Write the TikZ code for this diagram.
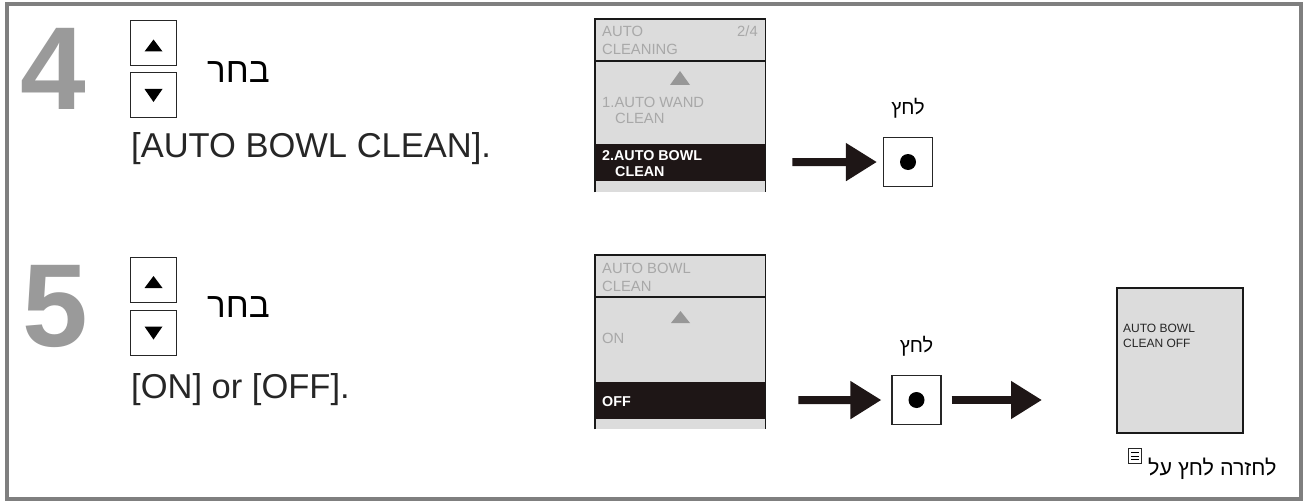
\documentclass[tikz,border=0pt]{standalone}
\usepackage{fontspec}
\setmainfont{Liberation Sans}
\newfontfamily\hebfont[Script=Hebrew]{Liberation Sans}
\TeXXeTstate=1
\usetikzlibrary{arrows.meta,positioning}
\definecolor{framegray}{HTML}{7F7F7F}
\definecolor{numgray}{HTML}{9A9A9A}
\definecolor{lcdfill}{HTML}{DCDCDC}
\definecolor{lcdtext}{HTML}{A8A8A8}
\definecolor{barblack}{HTML}{1E1616}
\newcommand{\fsz}[1]{\fontsize{#1}{#1}\selectfont}

\begin{document}
\begin{tikzpicture}[x=1pt, y=-1pt, every node/.style={inner sep=0pt},
  stepnum/.style={anchor=base west, text=numgray, font=\fsz{118}\bfseries},
  keybox/.style={draw=black!85, line width=1pt, minimum width=46pt, minimum height=45pt},
  choose/.style={anchor=base west, font=\fsz{35}\hebfont},
  optline/.style={anchor=base west, font=\fsz{34.5}, text=black!85},
  lcd/.style={fill=lcdfill, anchor=north west, minimum width=170pt},
  lcdedge/.style={draw=black!90, line width=1.3pt},
  lcdgray/.style={anchor=base west, text=lcdtext, font=\fsz{14.8}},
  lcdsel/.style={anchor=base west, text=white, font=\fsz{14.3}\bfseries},
  selbar/.style={fill=barblack, anchor=north west, minimum width=170pt, minimum height=37pt},
  pushbtn/.style={draw=black!85, line width=1.1pt, minimum size=49pt},
  press/.style={font=\fsz{20}\hebfont},
  bigarrow/.style={barblack, line width=8pt, -{Triangle[length=31pt, width=36pt]}}]

  \useasboundingbox (0,0) rectangle (1307,503);
  \draw[framegray, line width=4pt] (6.5,4.5) rectangle (1300.5,498.5);

  % step 4
  \node[stepnum] (num4) at (20,110) {4};
  \node[keybox] (up4) at (153.5,43) {};
  \node[keybox] (down4) at (153.5,95) {};
  \fill ([shift={(-9,8.5)}]up4.center) -- ++(18,0) -- ++(-9,-12) -- cycle;
  \fill ([shift={(-9,-6)}]down4.center) -- ++(18,0) -- ++(-9,13) -- cycle;
  \node[choose] (sel4) at (207,83) {\beginR בחר\endR};
  \node[optline] (opt4) at (131,157) {[AUTO BOWL CLEAN].};

  \node[lcd, minimum height=173pt] (scr4) at (595,19) {};
  \node[selbar] (bar4) at (595,143.5) {};
  \draw[lcdedge] (scr4.south west) |- (scr4.north east) -- (scr4.south east);
  \draw[lcdedge] (595,61) -- (765,61);
  \node[lcdgray] at (602,37) {AUTO};
  \node[lcdgray, anchor=base east] at (758,37) {2/4};
  \node[lcdgray] at (602,55) {CLEANING};
  \fill[lcdtext!90!black] (670,85) -- (690,85) -- (680,71) -- cycle;
  \node[lcdgray] at (602,107) {1.AUTO WAND};
  \node[lcdgray] at (615,123) {CLEAN};
  \node[lcdsel] at (602,160) {2.AUTO BOWL};
  \node[lcdsel] at (615,176) {CLEAN};

  \node[pushbtn] (btn4) at (908,162) {};
  \fill (btn4.center) circle (8pt);
  \node[press, above=18pt of btn4] (press4) {\beginR לחץ\endR};
  \draw[bigarrow, shorten <=27pt, shorten >=6pt] (bar4.east) -- (btn4.west);

  % step 5
  \node[stepnum] (num5) at (22,346) {5};
  \node[keybox] (up5) at (153.5,279.5) {};
  \node[keybox] (down5) at (153.5,332.5) {};
  \fill ([shift={(-9,8.5)}]up5.center) -- ++(18,0) -- ++(-9,-12) -- cycle;
  \fill ([shift={(-9,-6)}]down5.center) -- ++(18,0) -- ++(-9,13) -- cycle;
  \node[choose] (sel5) at (207,317) {\beginR בחר\endR};
  \node[optline] (opt5) at (131,398) {[ON] or [OFF].};

  \node[lcd, minimum height=174pt] (scr5) at (595,255) {};
  \node[selbar] (bar5) at (595,381.5) {};
  \draw[lcdedge] (scr5.south west) |- (scr5.north east) -- (scr5.south east);
  \draw[lcdedge] (595,297) -- (765,297);
  \node[lcdgray] at (602,273) {AUTO BOWL};
  \node[lcdgray] at (602,291) {CLEAN};
  \fill[lcdtext!90!black] (671,323) -- (690,323) -- (680.5,311) -- cycle;
  \node[lcdgray] at (602,343) {ON};
  \node[lcdsel] at (602,406) {OFF};

  \node[pushbtn] (btn5) at (916.5,400) {};
  \fill (btn5.center) circle (8pt);
  \node[press, above=18pt of btn5] (press5) {\beginR לחץ\endR};
  \draw[bigarrow, shorten <=33pt, shorten >=10pt] (bar5.east) -- (btn5.west);
  \coordinate (done5) at (1042,400);
  \draw[bigarrow, shorten <=10pt] (btn5.east) -- (done5);

  \node[draw=black!90, line width=2pt, fill=lcdfill, minimum width=126pt, minimum height=145pt]
    (result) at (1180,360.5) {};
  \node[anchor=base west, text=black!85, font=\fsz{12}] at (1123,332) {AUTO BOWL};
  \node[anchor=base west, text=black!85, font=\fsz{12}] at (1123,347) {CLEAN OFF};

  \node[draw=black!85, line width=1pt, minimum width=13pt, minimum height=15pt] (menu) at (1135,456) {};
  \foreach \dy in {-3.5,0,3.5}
    \draw[line width=1pt] ([shift={(-4,\dy)}]menu.center) -- ++(8,0);
  \node[anchor=base west, font=\fsz{21.5}\hebfont] (back) at (1148,475) {\beginR לחזרה לחץ על\endR};
\end{tikzpicture}
\end{document}
